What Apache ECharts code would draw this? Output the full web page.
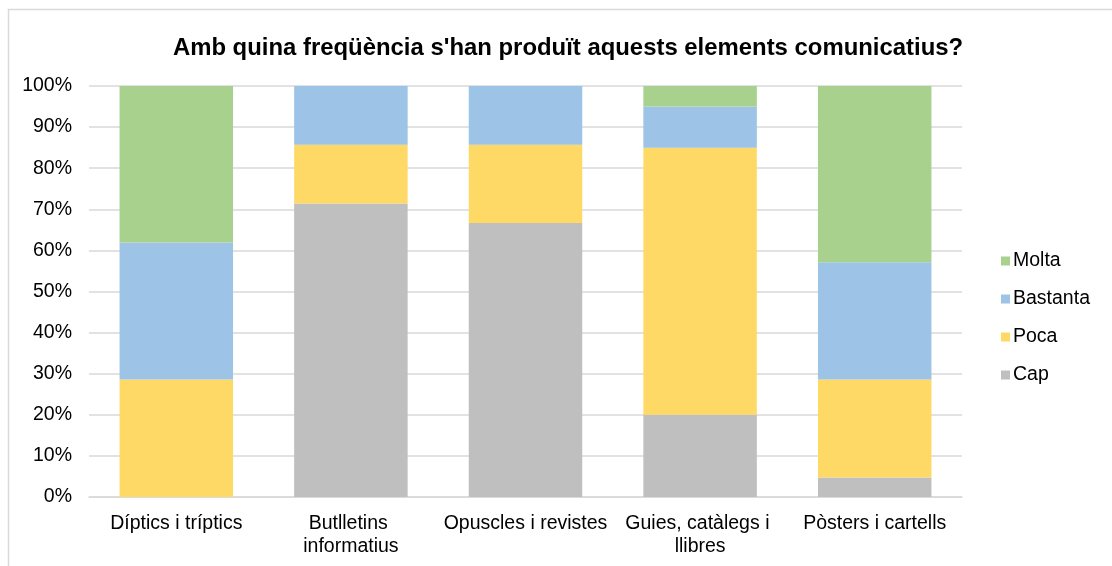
<!DOCTYPE html>
<html>
<head>
<meta charset="utf-8">
<script src="https://cdn.jsdelivr.net/npm/echarts@6/dist/echarts.min.js"></script>
<style>
  html, body { margin: 0; padding: 0; background: #fff; }
  #main { width: 1112px; height: 566px; }
</style>
</head>
<body>
<div id="main"></div>
<script>
// categories and values (% of responses)
const categories = [
  'Díptics i tríptics',
  'Butlletins informatius',
  'Opuscles i revistes',
  'Guies, catàlegs i llibres',
  'Pòsters i cartells'
]
const cap = [0, 71.43, 66.67, 20, 4.76]
const poca = [28.57, 14.29, 19.05, 65, 23.81]
const bastanta = [33.33, 14.29, 14.29, 10, 28.57]
const molta = [38.1, 0, 0, 5, 42.86]

const titleText = "Amb quina freqüència s'han produït aquests elements comunicatius?"
const fontFamily = '"Liberation Sans", Arial, sans-serif'

const chart = echarts.init(document.getElementById('main'))

const option = {
  animation: false,
  color: ['#BFBFBF', '#FFD966', '#9DC3E6', '#A9D18E'],
  graphic: [{
    type: 'rect',
    shape: { x: 8.5, y: 9.5, width: 1200, height: 700 },
    style: { fill: 'none', stroke: '#D9D9D9', lineWidth: 1.5 },
    silent: true
  }],
  title: {
    text: titleText,
    left: 563,
    textAlign: 'center',
    top: 31,
    textStyle: {
      fontFamily: fontFamily,
      fontSize: 23.9,
      fontWeight: 'bold',
      color: '#000'
    }
  },
  legend: {
    orient: 'vertical',
    left: 996,
    top: 246,
    itemGap: 18,
    itemWidth: 9,
    itemHeight: 9,
    icon: 'rect',
    data: ['Molta', 'Bastanta', 'Poca', 'Cap'],
    textStyle: {
      fontFamily: fontFamily,
      fontSize: 19.5,
      color: '#000',
      padding: [0, 0, 0, -2]
    }
  },
  grid: {
    left: 89,
    right: 150,
    top: 86,
    bottom: 69,
    containLabel: false
  },
  xAxis: {
    type: 'category',
    data: categories,
    axisTick: { show: false },
    axisLine: { lineStyle: { color: '#D9D9D9', width: 1.5 } },
    axisLabel: {
      color: '#000',
      fontFamily: fontFamily,
      fontSize: 19.5,
      margin: 15,
      lineHeight: 23,
      width: 174,
      overflow: 'break',
      interval: 0
    }
  },
  yAxis: {
    type: 'value',
    min: 0,
    max: 100,
    interval: 10,
    axisLine: { show: false },
    axisTick: { show: false },
    axisLabel: {
      formatter: '{value}%',
      color: '#000',
      fontFamily: fontFamily,
      fontSize: 19.5,
      margin: 17
    },
    splitLine: { lineStyle: { color: '#D9D9D9', width: 1.5 } }
  },
  series: [
    { name: 'Cap', type: 'bar', stack: 'total', data: cap, barCategoryGap: '35%' },
    { name: 'Poca', type: 'bar', stack: 'total', data: poca },
    { name: 'Bastanta', type: 'bar', stack: 'total', data: bastanta },
    { name: 'Molta', type: 'bar', stack: 'total', data: molta }
  ]
}

chart.setOption(option)
</script>
</body>
</html>
